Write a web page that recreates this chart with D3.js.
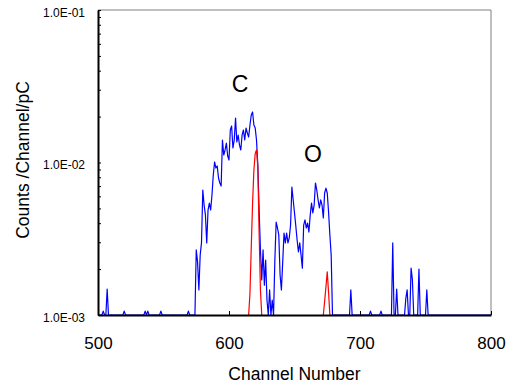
<!DOCTYPE html>
<html>
<head>
<meta charset="utf-8">
<script src="https://cdn.jsdelivr.net/npm/d3@7"></script>
<style>
  body { margin: 0; background: #fff; }
  text { font-family: "Liberation Sans", Arial, sans-serif; fill: #000; }
</style>
</head>
<body>
<div id="chart"></div>
<script>
// spectrum: channel number and counts/channel/pC (0 = empty channel)
const blueChannels = [
  500, 503, 504, 505, 506, 507, 508, 519, 520, 521, 535, 536, 537, 538, 539, 547, 548, 549, 568, 569, 570,
  574, 575, 576, 577, 578, 579, 580, 581, 582, 583, 584, 585, 586, 587, 588, 589, 590, 591, 592, 593, 594,
  595, 596, 597, 598, 599, 600, 601, 602, 603, 604, 605, 606, 607, 608, 609, 610, 611, 612, 613, 614, 615,
  616, 617, 618, 619, 620, 621, 622, 623, 624, 625, 626, 627, 628, 629, 630, 631, 632, 633, 634, 635, 636,
  637, 638, 639, 640, 641, 642, 643, 644, 645, 646, 647, 648, 649, 650, 651, 652, 653, 654, 655, 656, 657,
  658, 659, 660, 661, 662, 663, 664, 665, 666, 667, 668, 669, 670, 671, 672, 673, 674, 675, 676, 677, 678,
  679, 692, 693, 694, 707, 708, 709, 715, 716, 717, 724, 725, 726, 727, 728, 729, 734, 735, 736, 737, 738,
  739, 740, 741, 744, 745, 746, 750, 751, 752, 800
];
const blueCounts = [
  0, 0, 1.06e-3, 0, 0, 1.48e-3, 0, 0, 1.06e-3, 0, 0, 1.06e-3, 0, 1.06e-3, 0, 0, 1.06e-3, 0, 0, 1.06e-3, 0,
  0, 2.67e-3, 2.23e-3, 1.46e-3, 2.47e-3, 2.97e-3, 6.60e-3, 5.26e-3, 4.53e-3, 2.97e-3, 4.88e-3, 5.42e-3,
  4.88e-3, 6.12e-3, 8.28e-3, 1.008e-2, 9.20e-3, 9.49e-3, 7.91e-3, 7.34e-3, 7.01e-3,
  1.405e-2, 1.12e-2, 1.208e-2, 1.342e-2, 1.103e-2, 1.038e-2, 1.633e-2, 1.735e-2, 1.245e-2, 1.405e-2,
  1.958e-2, 1.363e-2, 1.514e-2, 1.303e-2, 1.208e-2, 1.514e-2, 1.633e-2, 1.405e-2, 1.683e-2, 1.56e-2,
  1.469e-2, 1.762e-2, 2.048e-2, 2.144e-2, 1.762e-2, 1.683e-2, 1.405e-2, 9.63e-3, 4.88e-3, 2.67e-3,
  1.70e-3, 2.67e-3, 1.57e-3, 2.29e-3, 1.25e-3, 0, 1.46e-3, 0, 1.25e-3, 0, 2.29e-3, 4.07e-3,
  3.72e-3, 3.35e-3, 1.83e-3, 1.46e-3, 2.23e-3, 3.45e-3, 2.97e-3, 3.45e-3, 2.97e-3, 3.20e-3, 3.89e-3,
  6.91e-3, 5.68e-3, 4.67e-3, 3.83e-3, 3.10e-3, 2.59e-3, 2.97e-3, 2.47e-3, 2.03e-3, 3.89e-3,
  4.20e-3, 3.72e-3, 4.01e-3, 3.50e-3, 4.53e-3, 5.42e-3, 4.67e-3, 5.26e-3, 7.34e-3, 6.60e-3, 5.68e-3,
  5.03e-3, 5.68e-3, 5.26e-3, 4.33e-3, 6.31e-3, 6.80e-3, 6.31e-3, 4.74e-3, 3.35e-3, 2.47e-3,
  0, 0, 1.46e-3, 0, 0, 1.06e-3, 0, 0, 1.06e-3, 0, 0, 2.97e-3, 0, 0, 1.48e-3, 0, 0, 1.29e-3, 1.46e-3, 0, 0,
  2.03e-3, 1.70e-3, 0, 0, 2.0e-3, 0, 0, 1.46e-3, 0, 0
];

// fitted peaks (red)
const carbonChannels = [615, 616, 617, 618, 619, 620, 621, 622, 623, 624, 625];
const carbonCounts = [0, 1.39e-3, 2.80e-3, 5.42e-3, 8.93e-3, 1.146e-2, 1.208e-2, 9.4e-3, 3.43e-3, 1.46e-3, 0];
const oxygenChannels = [672, 673, 674, 675, 676, 677];
const oxygenCounts = [0, 1.23e-3, 1.53e-3, 1.92e-3, 1.41e-3, 0];

const xTicks = [500, 600, 700, 800];
const yDecades = [1e-3, 1e-2, 1e-1];
const yLabels = ['1.0E-03', '1.0E-02', '1.0E-01'];
const peakLabels = [
  { text: 'C', channel: 608.4, value: 2.92e-2 },
  { text: 'O', channel: 664.1, value: 1.015e-2 }
];

const width = 515, height = 387;
const mLeft = 98, mRight = 491, mTop = 10, mBottom = 315;

var svg = d3.select('#chart')
  .append('svg')
  .attr('width', width)
  .attr('height', height);

var x = d3.scaleLinear().domain([500, 800]).range([mLeft, mRight]);
var y = d3.scaleLog().domain([1e-3, 1e-1]).range([mBottom, mTop]).clamp(true);

svg.append('clipPath')
  .attr('id', 'plot')
  .append('rect')
  .attr('x', mLeft).attr('y', mTop - 1)
  .attr('width', mRight - mLeft).attr('height', mBottom - mTop + 1);

// frame: grey top and right edges
svg.append('path')
  .attr('d', `M${mLeft},${mTop}H${mRight}V${mBottom}`)
  .style('fill', 'none')
  .style('stroke', '#808080')
  .style('stroke-width', 1);

function zip(chs, vals) {
  return chs.map((c, i) => ({ ch: c, v: vals[i] }));
}

var line = d3.line()
  .x(d => x(d.ch))
  .y(d => y(d.v));

var series = svg.append('g').attr('clip-path', 'url(#plot)');
series.append('path')
  .datum(zip(blueChannels, blueCounts))
  .attr('d', line)
  .style('fill', 'none')
  .style('stroke', '#0000ff')
  .style('stroke-width', 1.2)
  .style('stroke-linejoin', 'round');
[zip(carbonChannels, carbonCounts), zip(oxygenChannels, oxygenCounts)].forEach(s => {
  series.append('path')
    .datum(s)
    .attr('d', line)
    .style('fill', 'none')
    .style('stroke', '#ff0000')
    .style('stroke-width', 1.2)
    .style('stroke-linejoin', 'round');
});

// y axis: log minor ticks inside, labels only at decades
var yTickValues = [];
yDecades.forEach(d => {
  for (let k = 1; k <= 9; k++) {
    if (d * k <= 1e-1 + 1e-12) yTickValues.push(d * k);
  }
});
var yAxis = d3.axisLeft(y)
  .tickValues(yTickValues)
  .tickSizeInner(-3)
  .tickSizeOuter(0)
  .tickPadding(13)
  .tickFormat(d => {
    var i = yDecades.findIndex(t => Math.abs(t - d) / t < 1e-6);
    return i >= 0 ? yLabels[i] : '';
  });
var gy = svg.append('g')
  .attr('transform', `translate(${mLeft},0)`)
  .call(yAxis);
gy.select('.domain').style('stroke', '#000').style('stroke-width', 2);
gy.selectAll('.tick line').style('stroke', '#000');
gy.selectAll('.tick text')
  .style('font-size', '12px')
  .attr('dy', '0.5em');

// x axis
var xAxis = d3.axisBottom(x)
  .tickValues(xTicks)
  .tickSizeInner(-4)
  .tickSizeOuter(0)
  .tickPadding(22)
  .tickFormat(d3.format('d'));
var gx = svg.append('g')
  .attr('transform', `translate(0,${mBottom})`)
  .call(xAxis);
gx.select('.domain').style('stroke', '#000').style('stroke-width', 2);
gx.selectAll('.tick line').style('stroke', '#000');
gx.selectAll('.tick text').style('font-size', '17px');

// titles
svg.append('text')
  .attr('x', (mLeft + mRight) / 2)
  .attr('y', 380)
  .attr('text-anchor', 'middle')
  .style('font-size', '17.5px')
  .text('Channel Number');

svg.append('text')
  .attr('transform', 'translate(29,160) rotate(-90)')
  .attr('text-anchor', 'middle')
  .style('font-size', '17.5px')
  .text('Counts /Channel/pC');

// peak labels
svg.selectAll('.peak')
  .data(peakLabels)
  .enter()
  .append('text')
  .classed('peak', true)
  .attr('x', d => x(d.channel))
  .attr('y', d => y(d.value))
  .attr('text-anchor', 'middle')
  .style('font-size', '23px')
  .text(d => d.text);
</script>
</body>
</html>
